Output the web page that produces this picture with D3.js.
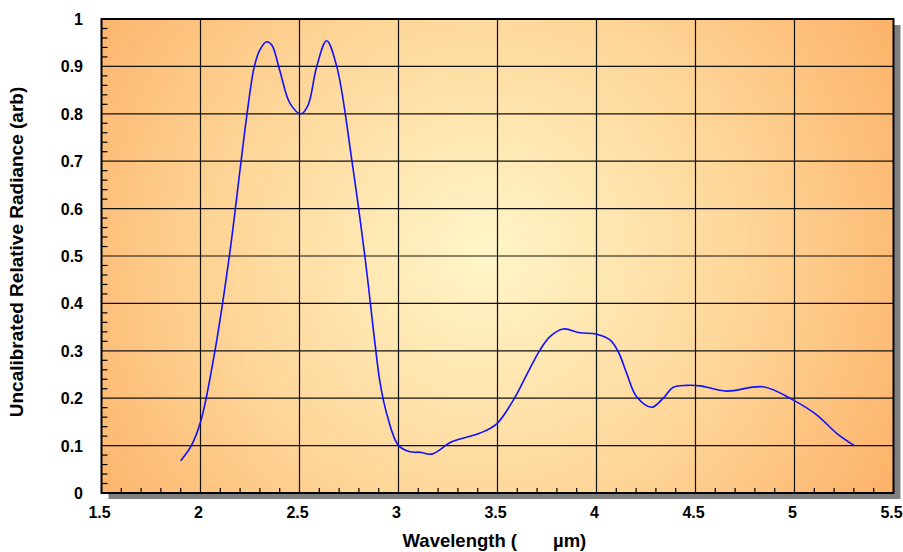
<!DOCTYPE html>
<body style="margin:0;background:#fff">
<svg width="903" height="552" font-family="'Liberation Sans', Arial, sans-serif" font-weight="bold"></svg>
</body>
<script src="https://d3js.org/d3.v7.min.js"></script>
<script>

// wavelength (um) and radiance
var wavelength = [1.90, 1.955, 2.003, 2.073, 2.149, 2.20, 2.235, 2.272, 2.30, 2.334, 2.36, 2.40, 2.452, 2.508,
  2.544, 2.587, 2.637, 2.688, 2.764, 2.83, 2.88, 2.906, 2.94, 2.999, 3.058, 3.109, 3.168, 3.269, 3.41,
  3.496, 3.58, 3.647, 3.715, 3.765, 3.832, 3.917, 4.001, 4.068, 4.110, 4.152, 4.203, 4.279, 4.337,
  4.388, 4.455, 4.523, 4.657, 4.842, 4.994, 5.112, 5.213, 5.302];
var radiance = [0.068, 0.101, 0.154, 0.30, 0.51, 0.683, 0.80, 0.90, 0.935, 0.952, 0.945, 0.892, 0.822, 0.80,
  0.819, 0.90, 0.954, 0.90, 0.703, 0.50, 0.32, 0.235, 0.168, 0.101, 0.087, 0.086, 0.082, 0.108, 0.126,
  0.146, 0.196, 0.249, 0.302, 0.33, 0.346, 0.338, 0.335, 0.323, 0.298, 0.253, 0.203, 0.181, 0.20,
  0.223, 0.227, 0.226, 0.215, 0.224, 0.196, 0.165, 0.126, 0.10];

var xTicks = [1.5, 2, 2.5, 3, 3.5, 4, 4.5, 5, 5.5];
var yTicks = [0, 0.1, 0.2, 0.3, 0.4, 0.5, 0.6, 0.7, 0.8, 0.9, 1];

var svg = d3.select("svg");
var pL = 101.5, pR = 893.5, pT = 19, pB = 493;

var x = d3.scaleLinear().domain([1.5, 5.5]).range([pL, pR]);
var y = d3.scaleLinear().domain([0, 1]).range([pB, pT]);

var defs = svg.append("defs");
var grad = defs.append("radialGradient")
    .attr("id", "bg")
    .attr("gradientUnits", "userSpaceOnUse")
    .attr("cx", 485).attr("cy", 255).attr("r", 480);
grad.append("stop").attr("offset", 0).attr("stop-color", "#fff6c8");
grad.append("stop").attr("offset", 0.55).attr("stop-color", "#fed597");
grad.append("stop").attr("offset", 1).attr("stop-color", "#fcb066");

// drop shadow
svg.append("rect")
    .attr("x", pL + 7).attr("y", pT + 6)
    .attr("width", pR - pL).attr("height", pB - pT)
    .attr("fill", "#808080");

svg.append("rect")
    .attr("x", pL).attr("y", pT)
    .attr("width", pR - pL).attr("height", pB - pT)
    .attr("fill", "url(#bg)");

// grid
svg.append("g").selectAll("line")
  .data(xTicks.slice(1, -1))
  .join("line")
    .attr("x1", d => x(d)).attr("x2", d => x(d))
    .attr("y1", pT).attr("y2", pB)
    .attr("stroke", "#111").attr("stroke-width", 1.2);

svg.append("g").selectAll("line")
  .data(yTicks.slice(1, -1))
  .join("line")
    .attr("y1", d => y(d)).attr("y2", d => y(d))
    .attr("x1", pL).attr("x2", pR)
    .attr("stroke", "#111").attr("stroke-width", 1.2);

// minor ticks
var xMinor = d3.range(15, 56).map(d => d / 10).filter(d => Math.round(d * 10) % 5 != 0);
svg.append("g").selectAll("line")
  .data(xMinor)
  .join("line")
    .attr("x1", d => x(d)).attr("x2", d => x(d))
    .attr("y1", pB).attr("y2", pB - 5)
    .attr("stroke", "#000").attr("stroke-width", 1.2);

var yMinor = d3.range(0, 51).map(d => d / 50).filter(d => Math.round(d * 50) % 5 != 0);
svg.append("g").selectAll("line")
  .data(yMinor)
  .join("line")
    .attr("y1", d => y(d)).attr("y2", d => y(d))
    .attr("x1", pL).attr("x2", pL + 6)
    .attr("stroke", "#000").attr("stroke-width", 1.2);

// border
svg.append("rect")
    .attr("x", pL).attr("y", pT)
    .attr("width", pR - pL).attr("height", pB - pT)
    .attr("fill", "none").attr("stroke", "#000").attr("stroke-width", 2);

// curve
var pts = wavelength.map((w, i) => [w, radiance[i]]);
var line = d3.line()
    .x(d => x(d[0])).y(d => y(d[1]))
    .curve(d3.curveCatmullRom.alpha(0.5));

svg.append("path")
    .attr("d", line(pts))
    .attr("fill", "none")
    .attr("stroke", "#1010ff")
    .attr("stroke-width", 1.6);

// tick labels
svg.append("g").selectAll("text")
  .data(xTicks)
  .join("text")
    .attr("x", d => x(d) - 2).attr("y", 518)
    .attr("text-anchor", "middle")
    .attr("font-size", 16)
    .text(d => d);

svg.append("g").selectAll("text")
  .data(yTicks)
  .join("text")
    .attr("x", 83).attr("y", d => y(d) + 6)
    .attr("text-anchor", "end")
    .attr("font-size", 16)
    .text(d => d);

svg.append("text")
    .attr("x", 517).attr("y", 547)
    .attr("text-anchor", "end")
    .attr("font-size", 18.5)
    .text("Wavelength (");
svg.append("text")
    .attr("x", 553).attr("y", 547)
    .attr("font-size", 18.5)
    .text("µm)");

svg.append("text")
    .attr("transform", "translate(23,252) rotate(-90)")
    .attr("text-anchor", "middle")
    .attr("font-size", 19)
    .text("Uncalibrated Relative Radiance (arb)");

</script>
